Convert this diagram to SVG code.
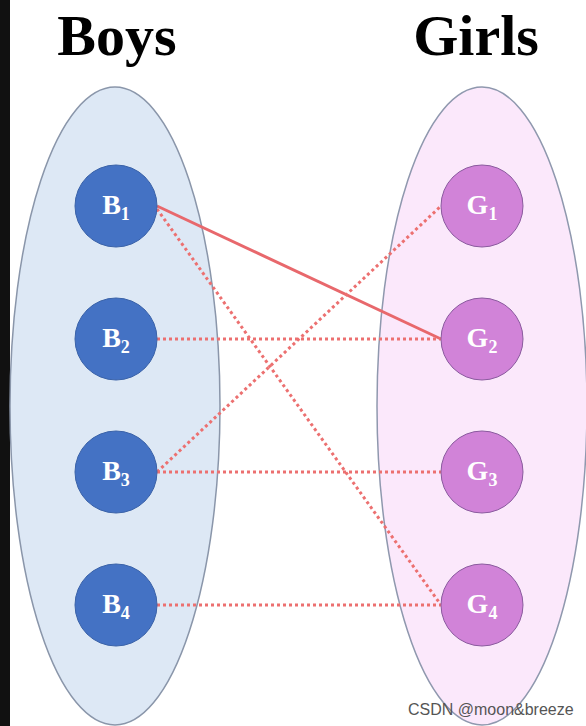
<svg xmlns="http://www.w3.org/2000/svg" width="586" height="726" viewBox="0 0 586 726">
<style>
.title{font-family:"Liberation Serif","Times New Roman",serif;font-weight:bold;font-size:58px;fill:#000}
.lbl{font-family:"Liberation Serif","Times New Roman",serif;font-weight:bold;font-size:28px;fill:#fff}
.sub{font-size:18px}
.boy{fill:#4472c4;stroke:#3a62a8;stroke-width:1}
.girl{fill:#d183d8;stroke:#8a5a9e;stroke-width:1}
.solid{stroke:#e8686c;stroke-width:3;fill:none}
.dot{stroke:#ec7070;stroke-width:3;stroke-dasharray:3 3;fill:none}
.wm{font-family:"Liberation Sans",Arial,sans-serif;font-size:16px;fill:#555}
</style>
<rect width="586" height="726" fill="#fff"/>
<rect x="0" y="0" width="10" height="726" fill="#111"/>
<g id="set-boys">
<ellipse cx="115" cy="406" rx="105" ry="319" fill="#dde8f5" stroke="#8a96aa" stroke-width="1.5"/>
<text class="title" x="117" y="55" text-anchor="middle">Boys</text>
</g>
<g id="set-girls">
<ellipse cx="482" cy="406" rx="105" ry="319" fill="#fbe8fb" stroke="#8f98ae" stroke-width="1.5"/>
<text class="title" x="476" y="55" text-anchor="middle">Girls</text>
</g>
<g id="connectors">
<line class="solid" x1="157" y1="206" x2="441" y2="339"/>
<line class="dot" x1="157" y1="209" x2="441" y2="605"/>
<line class="dot" x1="157" y1="339" x2="441" y2="339"/>
<line class="dot" x1="157" y1="472" x2="441" y2="206"/>
<line class="dot" x1="157" y1="472" x2="441" y2="472"/>
<line class="dot" x1="157" y1="605" x2="441" y2="605"/>
</g>
<g id="B1"><circle class="boy" cx="116" cy="206" r="41"/><text class="lbl" x="116" y="214" text-anchor="middle">B<tspan class="sub" dy="6">1</tspan></text></g>
<g id="B2"><circle class="boy" cx="116" cy="339" r="41"/><text class="lbl" x="116" y="347" text-anchor="middle">B<tspan class="sub" dy="6">2</tspan></text></g>
<g id="B3"><circle class="boy" cx="116" cy="472" r="41"/><text class="lbl" x="116" y="480" text-anchor="middle">B<tspan class="sub" dy="6">3</tspan></text></g>
<g id="B4"><circle class="boy" cx="116" cy="605" r="41"/><text class="lbl" x="116" y="613" text-anchor="middle">B<tspan class="sub" dy="6">4</tspan></text></g>
<g id="G1"><circle class="girl" cx="482" cy="206" r="41"/><text class="lbl" x="482" y="214" text-anchor="middle">G<tspan class="sub" dy="6">1</tspan></text></g>
<g id="G2"><circle class="girl" cx="482" cy="339" r="41"/><text class="lbl" x="482" y="347" text-anchor="middle">G<tspan class="sub" dy="6">2</tspan></text></g>
<g id="G3"><circle class="girl" cx="482" cy="472" r="41"/><text class="lbl" x="482" y="480" text-anchor="middle">G<tspan class="sub" dy="6">3</tspan></text></g>
<g id="G4"><circle class="girl" cx="482" cy="605" r="41"/><text class="lbl" x="482" y="613" text-anchor="middle">G<tspan class="sub" dy="6">4</tspan></text></g>
<text class="wm" x="408" y="715">CSDN @moon&amp;breeze</text>
</svg>
